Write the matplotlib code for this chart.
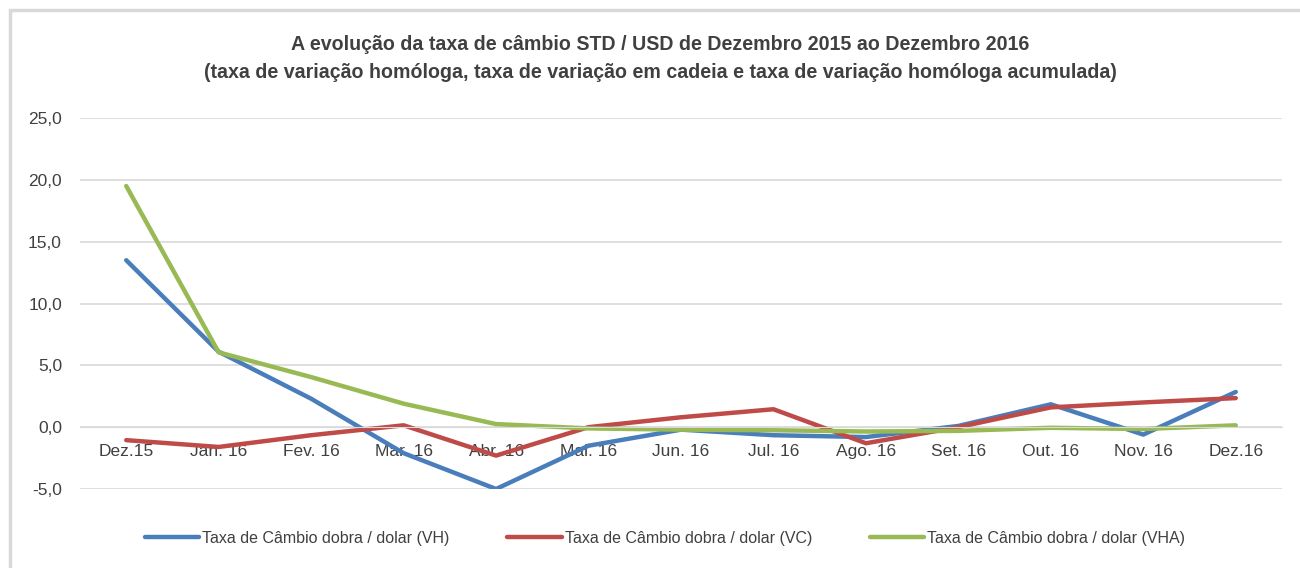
import matplotlib
matplotlib.use("Agg")
import matplotlib.pyplot as plt
from matplotlib.patches import Rectangle
from matplotlib.ticker import FuncFormatter

meses = ['Dez.15', 'Jan. 16', 'Fev. 16', 'Mar. 16', 'Abr. 16', 'Mai. 16', 'Jun. 16',
         'Jul. 16', 'Ago. 16', 'Set. 16', 'Out. 16', 'Nov. 16', 'Dez.16']
vh = [13.5, 6.1, 2.3, -2.1, -5.0, -1.5, -0.2, -0.65, -0.8, 0.1, 1.85, -0.6, 2.85]
vc = [-1.05, -1.6, -0.65, 0.15, -2.3, 0.0, 0.8, 1.45, -1.3, 0.0, 1.6, 2.0, 2.35]
vha = [19.5, 6.05, 4.05, 1.9, 0.25, -0.1, -0.2, -0.25, -0.35, -0.3, -0.05, -0.15, 0.15]

nomes = ['Taxa de Câmbio dobra / dolar (VH)',
         'Taxa de Câmbio dobra / dolar (VC)',
         'Taxa de Câmbio dobra / dolar (VHA)']
cores = ['#4A7EBB', '#BE4B48', '#98B954']

plt.rcParams['font.family'] = ['Liberation Sans', 'DejaVu Sans']
texto = '#404040'

fig = plt.figure(figsize=(13, 5.68), dpi=100)
fig.patches.append(Rectangle((10 / 1300, -0.01), 1.1, 1 - 10 / 568 + 0.01,
                             transform=fig.transFigure, fill=False,
                             edgecolor='#d9d9d9', linewidth=2.5))

ax = fig.add_axes([80 / 1300, 1 - 489 / 568, 1202 / 1300, 371 / 568])
x = range(len(meses))
for serie, nome, cor in zip([vh, vc, vha], nomes, cores):
    ax.plot(x, serie, color=cor, linewidth=3.2, label=nome, solid_capstyle='round')

ax.set_xlim(-0.5, len(meses) - 0.5)
ax.set_ylim(-5, 25)
ax.set_yticks(range(-5, 26, 5))
ax.yaxis.set_major_formatter(FuncFormatter(lambda v, p: f'{v:.1f}'.replace('.', ',')))
ax.grid(axis='y', color='#d9d9d9', linewidth=1.2)
ax.set_axisbelow(True)
for s in ['top', 'right', 'left']:
    ax.spines[s].set_visible(False)
ax.spines['bottom'].set_position(('data', 0))
ax.spines['bottom'].set_color('#d9d9d9')
ax.set_xticks(list(x))
ax.set_xticklabels(meses)
ax.tick_params(axis='x', length=0, pad=12, labelsize=12.5, labelcolor=texto)
ax.tick_params(axis='y', length=0, pad=13, labelsize=12.5, labelcolor=texto)

fig.text(660 / 1300, 1 - 45 / 568,
         'A evolução da taxa de câmbio STD / USD de Dezembro 2015 ao Dezembro 2016',
         ha='center', va='center', fontsize=14.1, fontweight='bold', color=texto)
fig.text(660 / 1300, 1 - 73 / 568,
         '(taxa de variação homóloga, taxa de variação em cadeia e taxa de variação homóloga acumulada)',
         ha='center', va='center', fontsize=14.1, fontweight='bold', color=texto)

leg = fig.legend(loc='center', bbox_to_anchor=(665 / 1300, 1 - 538 / 568), ncol=3,
                 frameon=False, handlelength=3.4, handletextpad=0.2, columnspacing=3.6,
                 prop={'size': 11.5})
for t in leg.get_texts():
    t.set_color(texto)

fig.savefig('out.png', dpi=100)
